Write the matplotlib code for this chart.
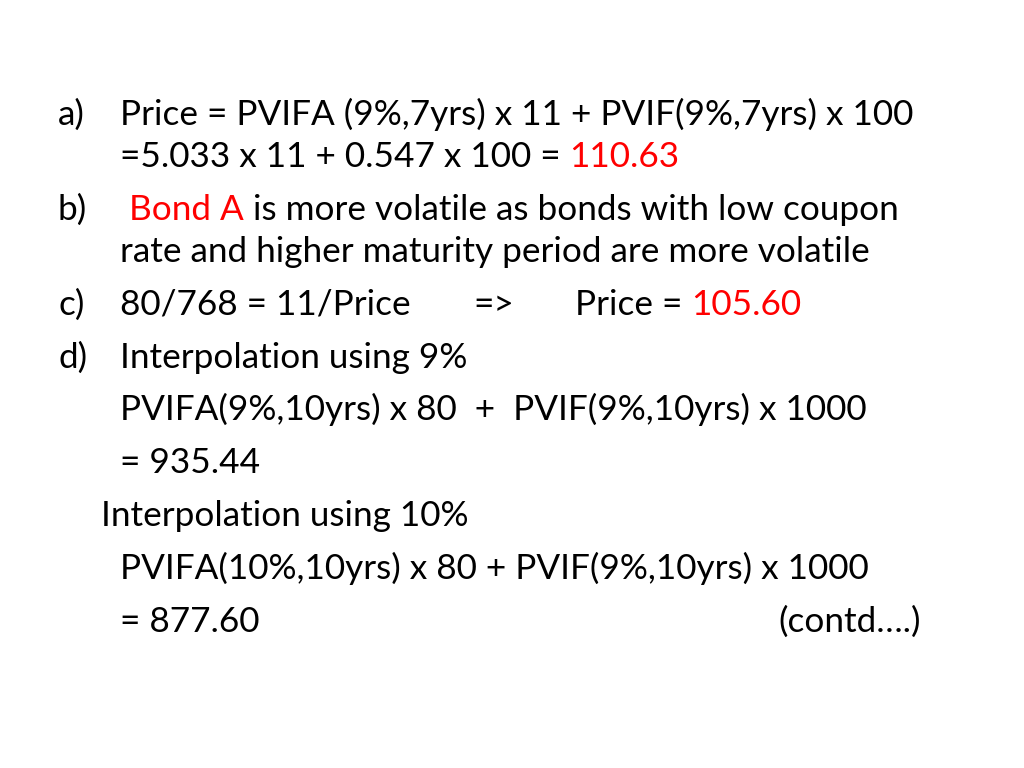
import matplotlib
matplotlib.use("Agg")
import matplotlib.pyplot as plt

FONT = ["Lato", "DejaVu Sans"]
SIZE = 25.3
RED = "#ff0000"

labels = ["a)", "b)", "c)", "d)"]
label_y = [125, 220, 315, 368]

# each line: (x_px, baseline_y_px, [(text, color), ...])
lines = [
    (120, 125, [("Price = PVIFA (9%,7yrs) x 11 + PVIF(9%,7yrs) x 100", "black")]),
    (120, 167, [("=5.033 x 11 + 0.547 x 100 = ", "black"), ("110.63", RED)]),
    (120, 220, [(" Bond A", RED), (" is more volatile as bonds with low coupon", "black")]),
    (120, 262, [("rate and higher maturity period are more volatile", "black")]),
    (120, 315, [("80/768 = 11/Price", "black")]),
    (473, 315, [("=>", "black")]),
    (575, 315, [("Price = ", "black"), ("105.60", RED)]),
    (120, 368, [("Interpolation using 9%", "black")]),
    (120, 420, [("PVIFA(9%,10yrs) x 80  +  PVIF(9%,10yrs) x 1000", "black")]),
    (120, 473, [("= 935.44", "black")]),
    (101, 526, [("Interpolation using 10%", "black")]),
    (120, 579, [("PVIFA(10%,10yrs) x 80 + PVIF(9%,10yrs) x 1000", "black")]),
    (120, 632, [("= 877.60", "black")]),
    (778, 632, [("(contd\u2026.)", "black")]),
]

W, H = 1024, 768
fig = plt.figure(figsize=(10.24, 7.68), dpi=100)
fig.patch.set_facecolor("white")
renderer = fig.canvas.get_renderer()

for lab, y in zip(labels, label_y):
    fig.text(58 / W, 1 - y / H, lab, fontsize=SIZE, family=FONT, va="baseline", ha="left")

for x, y, segs in lines:
    cx = x
    for txt, col in segs:
        t = fig.text(cx / W, 1 - y / H, txt, fontsize=SIZE, family=FONT,
                     color=col, va="baseline", ha="left")
        bb = t.get_window_extent(renderer)
        cx = bb.x1

fig.savefig("out.png", dpi=100, facecolor="white")
